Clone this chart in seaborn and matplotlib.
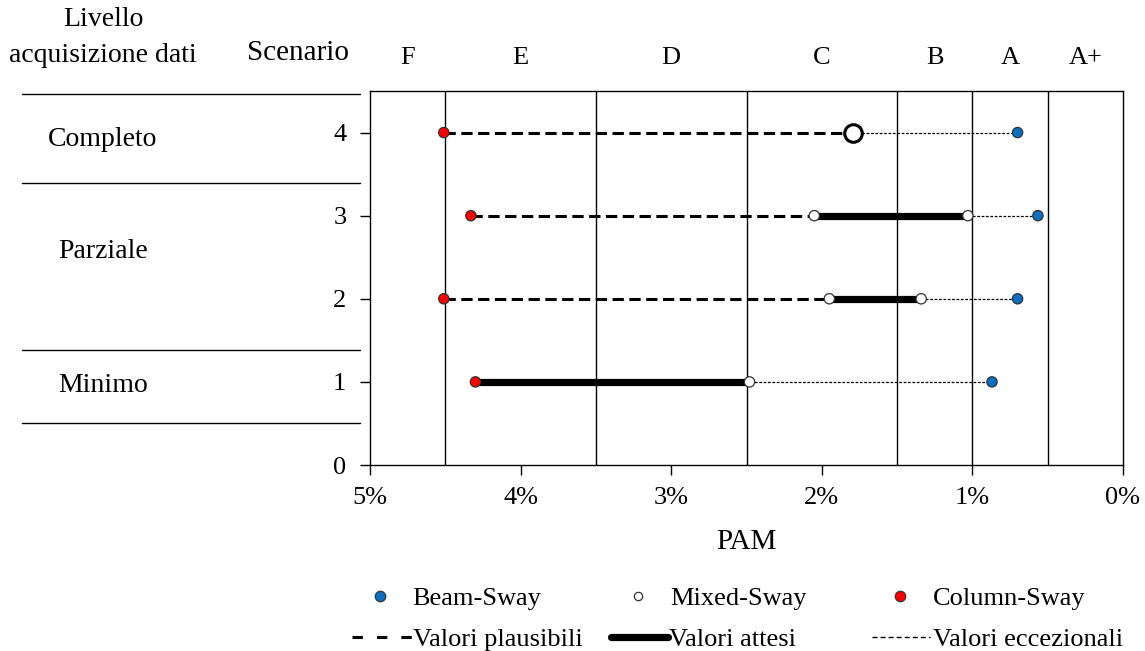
import numpy as np
import pandas as pd
import matplotlib
matplotlib.use("Agg")
import matplotlib.pyplot as plt
from matplotlib.lines import Line2D
from matplotlib.transforms import blended_transform_factory
import seaborn as sns

# ---- data -------------------------------------------------------------
scenarios = [1, 2, 3, 4]
beam_sway = [0.87, 0.70, 0.565, 0.70]          # PAM [%]
column_sway = [4.30, 4.51, 4.33, 4.51]
mixed_sway_hi = [2.48, 1.95, 2.05, 1.79]
mixed_sway_lo = [np.nan, 1.34, 1.03, np.nan]

# ranges per scenario (start, end) in PAM %
plaus_start = [np.nan, 4.51, 4.33, 4.51]
plaus_end = [np.nan, 1.95, 2.05, 1.79]
attesi_start = [4.30, 1.95, 2.05, np.nan]
attesi_end = [2.48, 1.34, 1.03, np.nan]
eccez_start = [2.48, 1.34, 1.03, 1.79]
eccez_end = [0.87, 0.70, 0.565, 0.70]

class_labels = ["F", "E", "D", "C", "B", "A", "A+"]
class_edges = [5.0, 4.5, 3.5, 2.5, 1.5, 1.0, 0.5, 0.0]
x_ticks = [5, 4, 3, 2, 1, 0]
x_ticklabels = ["5%", "4%", "3%", "2%", "1%", "0%"]
levels = ["Completo", "Parziale", "Minimo"]
mechanisms = ["Beam-Sway", "Mixed-Sway", "Column-Sway"]
range_names = ["Valori plausibili", "Valori attesi", "Valori eccezionali"]

# ---- style ------------------------------------------------------------
sns.set_style("ticks")
plt.rcParams["font.family"] = ["Liberation Serif", "DejaVu Serif"]
plt.rcParams["text.color"] = "black"
plt.rcParams["axes.labelcolor"] = "black"

BLUE = "#0a6fc2"
RED = "#ff0000"
DASH = (0, (3.7, 1.8))
DOT = (0, (2.2, 1.3))
TXT = 20
LEG = 19

fig = plt.figure(figsize=(11.45, 6.51), dpi=100)
W, H = 1145, 651
ax = fig.add_axes([370 / W, 1 - 465 / H, (1123 - 370) / W, (465 - 91) / H])

# class boundaries
for e in class_edges[1:-1]:
    ax.axvline(e, color="black", lw=1.0, zorder=1)

# ranges
for s, a, b in zip(scenarios, plaus_start, plaus_end):
    if not np.isnan(a):
        ax.plot([a, b], [s, s], color="black", lw=2.2, ls=DASH, zorder=2)
for s, a, b in zip(scenarios, attesi_start, attesi_end):
    if not np.isnan(a):
        ax.plot([a, b], [s, s], color="black", lw=5.2, solid_capstyle="butt", zorder=2)
for s, a, b in zip(scenarios, eccez_start, eccez_end):
    if not np.isnan(a):
        ax.plot([a, b], [s, s], color="black", lw=0.9, ls=DOT, zorder=2)

# points
pts = pd.DataFrame({
    "PAM": column_sway + beam_sway + mixed_sway_hi + mixed_sway_lo,
    "Scenario": scenarios * 4,
    "Meccanismo": ["Column-Sway"] * 4 + ["Beam-Sway"] * 4 + ["Mixed-Sway"] * 8,
}).dropna()
single = pts["Meccanismo"].eq("Mixed-Sway") & pts["Scenario"].eq(4)
palette = {"Beam-Sway": BLUE, "Mixed-Sway": "white", "Column-Sway": RED}
sns.scatterplot(data=pts[~single], x="PAM", y="Scenario", hue="Meccanismo",
                palette=palette, s=55, edgecolor="#333333", linewidth=0.9,
                legend=False, zorder=4, ax=ax)
sns.scatterplot(data=pts[single], x="PAM", y="Scenario", color="white",
                s=160, edgecolor="black", linewidth=2.2, legend=False,
                zorder=4, ax=ax)

ax.set_xlim(5, 0)
ax.set_ylim(0, 4.5)
ax.set_xticks(x_ticks)
ax.set_xticklabels(x_ticklabels)
ax.set_yticks([0, 1, 2, 3, 4])
ax.set_xlabel("PAM", fontsize=21, labelpad=14, color="black")
ax.set_ylabel("")
for sp in ax.spines.values():
    sp.set_visible(True)
    sp.set_linewidth(1.0)
    sp.set_color("black")
ax.tick_params(axis="both", direction="out", length=7, width=1,
               labelsize=19, colors="black")
ax.tick_params(axis="y", pad=10)
ax.tick_params(axis="x", pad=9)

# class letters above the axes
trans = blended_transform_factory(ax.transData, fig.transFigure)
for lab, lo, hi in zip(class_labels, class_edges[:-1], class_edges[1:]):
    ax.text((lo + hi) / 2, 1 - 58 / H, lab, transform=trans,
            ha="center", va="center", fontsize=19, color="black")

# left-hand table
fig.text(103 / W, 1 - 19 / H, "Livello", ha="center", va="center", fontsize=TXT)
fig.text(103 / W, 1 - 55 / H, "acquisizione dati", ha="center", va="center", fontsize=TXT)
fig.text(298 / W, 1 - 53 / H, "Scenario", ha="center", va="center", fontsize=21)
for ypx in [94, 183, 350, 423]:
    fig.add_artist(Line2D([22 / W, 360 / W], [1 - ypx / H, 1 - ypx / H],
                          color="black", lw=1.0))
for lab, ypx in zip(levels, [139, 252, 385]):
    fig.text(103 / W, 1 - ypx / H, lab, ha="center", va="center", fontsize=TXT)


def legend_entry(handle, label, x_px, y_px, hlen, pad):
    """One legend entry whose handle starts at x_px (figure pixels)."""
    leg = fig.legend([handle], [label], loc="center left",
                     bbox_to_anchor=(x_px / W, 1 - y_px / H), frameon=False,
                     fontsize=LEG, handlelength=hlen, handletextpad=pad,
                     borderpad=0, borderaxespad=0)
    for t in leg.get_texts():
        t.set_color("black")


# legend, first row: failure mechanisms
mk_colors = [BLUE, "white", RED]
mk_sizes = [7.5, 6, 7.5]
for lab, col, ms, x in zip(mechanisms, mk_colors, mk_sizes, [367, 625, 887]):
    h = Line2D([], [], ls="none", marker="o", ms=ms, mfc=col, mec="#333333", mew=0.9)
    legend_entry(h, lab, x, 598, 1.0, 0.72)

# legend, second row: PAM ranges
ln_handles = [
    Line2D([], [], color="black", lw=2.2, ls=(0, (3.4, 4.6))),
    Line2D([], [], color="black", lw=5.2, solid_capstyle="round"),
    Line2D([], [], color="black", lw=1.0, ls=(0, (3.6, 2.2))),
]
for h, lab, x, hl, pad in zip(ln_handles, range_names,
                              [352, 611, 872], [2.3, 2.15, 2.2], [0.0, 0.05, 0.1]):
    legend_entry(h, lab, x, 639, hl, pad)

fig.savefig("out.png", dpi=100)
